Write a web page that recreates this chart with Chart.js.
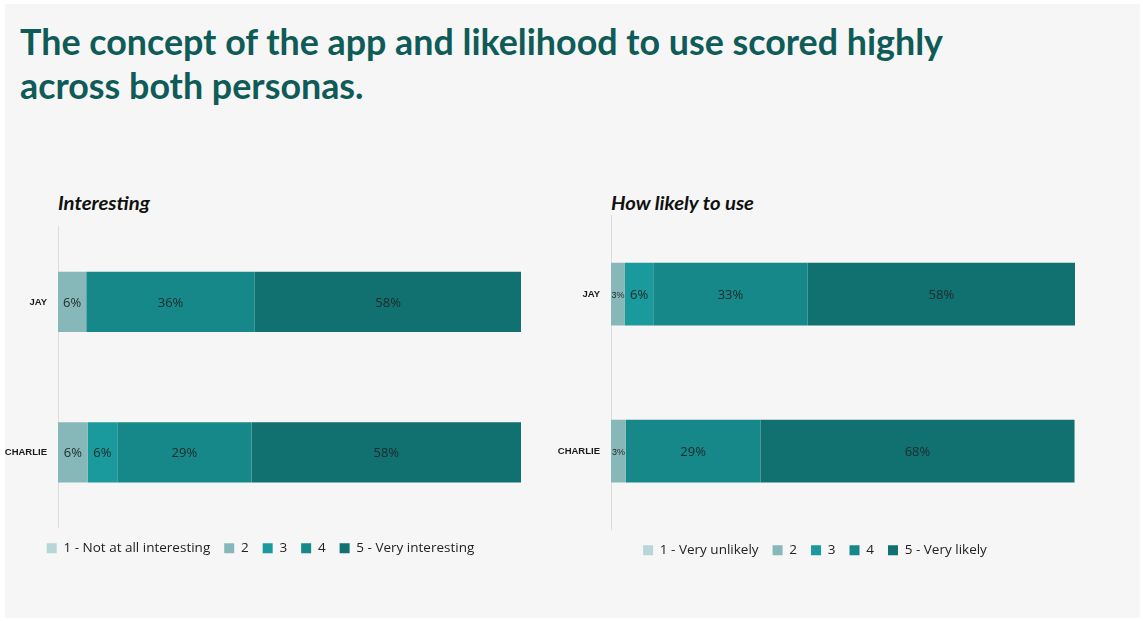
<!DOCTYPE html>
<html><head><meta charset="utf-8">
<script src="https://cdn.jsdelivr.net/npm/chart.js@4"></script>
<style>
html,body{margin:0;padding:0;background:#fff;width:1143px;height:621px;overflow:hidden;}
#panel{position:absolute;left:5px;top:4px;width:1135px;height:614px;background:#f6f6f6;}
#title{position:absolute;left:20px;top:19px;font-family:Lato,sans-serif;font-weight:700;font-size:36px;line-height:44px;color:#0f5b58;white-space:nowrap;transform-origin:0 0;}
.sub{position:absolute;top:192px;font-family:Lato,sans-serif;font-weight:700;font-style:italic;font-size:18px;color:#111;white-space:nowrap;transform-origin:0 0;}
.cw{position:absolute;}
</style></head><body>
<div id="panel"></div>
<div id="title"><span id="t1">The concept of the app and likelihood to use scored highly</span><br>across both personas.</div>
<div class="sub" id="s1" style="left:58px">Interesting</div>
<div class="sub" id="s2" style="left:611px">How likely to use</div>
<div class="cw" style="left:0;top:210px;width:533px;height:355px"><canvas id="c1"></canvas></div>
<div class="cw" style="left:555px;top:199px;width:525px;height:368px"><canvas id="c2"></canvas></div>
<script>
const personas = ['JAY', 'CHARLIE'];
const interestLabels = ['1 - Not at all interesting', '2', '3', '4', '5 - Very interesting'];
const likelyLabels = ['1 - Very unlikely', '2', '3', '4', '5 - Very likely'];
// share (%) per scale point, [JAY, CHARLIE]; labels show rounded values
const interest1 = [0, 0];
const interest2 = [6.1, 6.4];
const interest3 = [0, 6.4];
const interest4 = [36.4, 29.0];
const interest5 = [57.6, 58.2];
const likely1 = [0, 0];
const likely2 = [3.0, 3.2];
const likely3 = [6.1, 0];
const likely4 = [33.3, 29.0];
const likely5 = [57.6, 67.7];
const colors = ['#b6d6d7', '#87b8b9', '#1a9a9c', '#178889', '#117171'];

// fit title width
(function(){
  const t = document.getElementById('title');
  const w = document.getElementById('t1').getBoundingClientRect().width;
  t.style.transform = 'scaleX(' + (923 / w) + ')';
  const s1 = document.getElementById('s1');
  s1.style.transform = 'scaleX(' + (92 / s1.getBoundingClientRect().width) + ')';
  const s2 = document.getElementById('s2');
  s2.style.transform = 'scaleX(' + (143 / s2.getBoundingClientRect().width) + ')';
})();

const valueLabels = {
  id: 'valueLabels',
  afterDatasetsDraw(chart) {
    const ctx = chart.ctx;
    ctx.save();
    ctx.textAlign = 'center';
    ctx.textBaseline = 'middle';
    ctx.fillStyle = '#1e2a2a';
    chart.data.datasets.forEach((ds, di) => {
      const meta = chart.getDatasetMeta(di);
      meta.data.forEach((bar, i) => {
        const v = ds.data[i];
        if (!v) return;
        const w = Math.abs(bar.x - bar.base);
        ctx.font = w < 20 ? '9px "Liberation Sans", sans-serif' : '13px "Open Sans", sans-serif';
        ctx.fillText(Math.round(v) + '%', (bar.x + bar.base) / 2, bar.y + 1);
      });
    });
    ctx.restore();
  }
};

function makeChart(id, labels, series, yWidth, padRight) {
  return new Chart(document.getElementById(id), {
    type: 'bar',
    data: {
      labels: personas,
      datasets: series.map((d, k) => ({
        label: labels[k], data: d, backgroundColor: colors[k],
        borderWidth: 0, barPercentage: 0.4, categoryPercentage: 1
      }))
    },
    options: {
      indexAxis: 'y', responsive: true, maintainAspectRatio: false, animation: false,
      layout: { padding: { top: 5, right: padRight, bottom: 0, left: 0 } },
      scales: {
        x: { stacked: true, min: 0, max: 100, display: false },
        y: {
          stacked: true,
          grid: { display: false, drawTicks: false },
          border: { display: true, color: '#dcdcdc', width: 1 },
          ticks: { color: '#1a1a1a', padding: 11, font: { family: '"Liberation Sans", sans-serif', weight: 'bold', size: 9.5 } },
          afterFit(s) { s.width = yWidth; }
        }
      },
      plugins: {
        legend: {
          position: 'bottom', align: 'center',
          labels: { boxWidth: 10, boxHeight: 10, padding: 14, color: '#222',
            font: { family: '"Open Sans", sans-serif', size: 13.5 } }
        },
        tooltip: { enabled: false }
      }
    },
    plugins: [valueLabels]
  });
}
makeChart('c1', interestLabels, [interest1, interest2, interest3, interest4, interest5], 58, 12);
makeChart('c2', likelyLabels, [likely1, likely2, likely3, likely4, likely5], 56, 5);
</script>
</body></html>
